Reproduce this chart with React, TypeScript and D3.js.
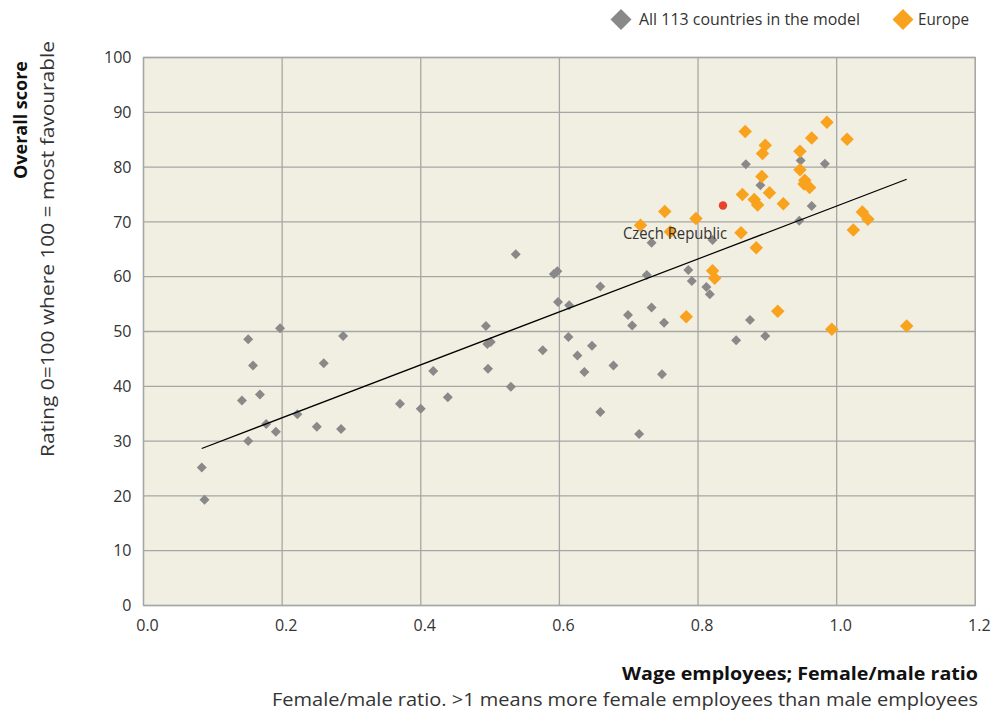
import React from 'react';
import * as d3 from 'd3';

// All 113 countries in the model (grey)
const allX = [0.084, 0.088, 0.142, 0.151, 0.151, 0.158, 0.168, 0.177, 0.191, 0.197, 0.222, 0.250, 0.260, 0.285, 0.288,
  0.370, 0.400, 0.418, 0.439, 0.494, 0.496, 0.501, 0.497, 0.530, 0.537, 0.576, 0.592, 0.597, 0.598, 0.614,
  0.613, 0.626, 0.636, 0.647, 0.659, 0.659, 0.678, 0.699, 0.705, 0.715, 0.726, 0.733, 0.733, 0.751, 0.748,
  0.786, 0.791, 0.812, 0.817, 0.821, 0.855, 0.869, 0.875, 0.890, 0.897, 0.946, 0.948, 0.964, 0.983];
const allY = [25.2, 19.3, 37.4, 48.6, 30.0, 43.8, 38.5, 33.1, 31.7, 50.6, 34.9, 32.6, 44.2, 32.2, 49.2,
  36.8, 35.9, 42.8, 38.0, 51.0, 47.7, 48.1, 43.2, 39.9, 64.1, 46.6, 60.5, 61.0, 55.4, 54.8,
  49.0, 45.6, 42.6, 47.4, 58.2, 35.3, 43.8, 53.0, 51.1, 31.3, 60.3, 54.4, 66.2, 51.6, 42.2,
  61.2, 59.2, 58.1, 56.8, 66.7, 48.4, 80.5, 52.1, 76.7, 49.2, 70.2, 81.2, 72.9, 80.6];

// Europe (orange)
const europeX = [0.868, 0.986, 0.964, 1.015, 0.897, 0.893, 0.947, 0.947, 0.892, 0.954, 0.953, 0.961, 0.864, 0.903,
  0.881, 0.886, 0.923, 0.752, 0.797, 0.717, 0.760, 0.862, 0.884, 1.037, 1.045, 1.024, 0.821, 0.824, 0.783,
  0.915, 0.993, 1.101];
const europeY = [86.5, 88.2, 85.3, 85.1, 84.0, 82.5, 82.9, 79.5, 78.3, 77.6, 76.9, 76.3, 75.0, 75.3,
  74.1, 73.1, 73.3, 71.9, 70.6, 69.4, 68.2, 68.0, 65.3, 71.8, 70.5, 68.5, 61.1, 59.7, 52.7,
  53.7, 50.4, 51.0];

// Highlighted country
const highlightName = 'Czech Republic';
const highlightX = 0.836;
const highlightY = 73.0;

// Linear trend line (fitted over all countries)
const trendSlope = 48.3;
const trendIntercept = 24.6;

const xTicks = [0, 0.2, 0.4, 0.6, 0.8, 1.0, 1.2];
const yTicks = [0, 10, 20, 30, 40, 50, 60, 70, 80, 90, 100];

const legendLabels = ['All 113 countries in the model', 'Europe'];
const yTitle = 'Overall score';
const ySubtitle = 'Rating 0=100 where 100 = most favourable';
const xTitle = 'Wage employees; Female/male ratio';
const xSubtitle = 'Female/male ratio. >1 means more female employees than male employees';

const GREY = '#898989';
const ORANGE = '#F9A21E';
const RED = '#E8432B';
const FONT = "'Open Sans', 'Noto Sans', sans-serif";

export default function App() {
  const W = 993, H = 713;
  const left = 143.5, right = 975.3, top = 57.5, bottom = 605.5;
  const x = d3.scaleLinear().domain([0, 1.2]).range([left, right]);
  const y = d3.scaleLinear().domain([0, 100]).range([bottom, top]);

  const diamondPath = (w: number) => d3.symbol().type(d3.symbolSquare).size((w * w) / 2)() as string;
  const greyD = diamondPath(10);
  const orangeD = diamondPath(13.5);
  const legendD = diamondPath(21);

  const allXs = [...allX, ...europeX];
  const xMin = d3.min(allXs) as number;
  const xMax = d3.max(allXs) as number;
  const trend = d3.line<number>().x(d => x(d)).y(d => y(trendSlope * d + trendIntercept));

  return (
    <svg width={W} height={H} style={{ position: 'absolute', left: 0, top: 0, background: '#fff' }} fontFamily={FONT}>
      <rect x={left} y={top} width={right - left} height={bottom - top} fill="#F1EFE1" />
      {yTicks.map(t => (
        <line key={'gy' + t} x1={left} x2={right} y1={y(t)} y2={y(t)} stroke="#A6A6A6" strokeWidth={1.3} />
      ))}
      {xTicks.map(t => (
        <line key={'gx' + t} x1={x(t)} x2={x(t)} y1={top} y2={bottom} stroke="#A6A6A6" strokeWidth={1.3} />
      ))}
      <rect x={left} y={top} width={right - left} height={bottom - top} fill="none" stroke="#A6A6A6" strokeWidth={1.3} />

      {yTicks.map(t => (
        <text key={'ty' + t} x={131.5} y={y(t)} dy="0.35em" textAnchor="end" fontSize={16} fill="#333">{t}</text>
      ))}
      {xTicks.map(t => (
        <text key={'tx' + t} x={x(t) + 4} y={631} textAnchor="middle" fontSize={16} fill="#333">{t.toFixed(1)}</text>
      ))}

      {allX.map((v, i) => (
        <path key={'a' + i} d={greyD} transform={`translate(${x(v)},${y(allY[i])}) rotate(45)`} fill={GREY} />
      ))}
      {europeX.map((v, i) => (
        <path key={'e' + i} d={orangeD} transform={`translate(${x(v)},${y(europeY[i])}) rotate(45)`} fill={ORANGE} />
      ))}
      <circle cx={x(highlightX)} cy={y(highlightY)} r={4.2} fill={RED} />

      <path d={trend([xMin, xMax]) as string} fill="none" stroke="#000" strokeWidth={1.2} />

      <text x={675} y={234} dy="0.35em" textAnchor="middle" fontSize={15.5} fill="#333" textLength={104} lengthAdjust="spacingAndGlyphs">{highlightName}</text>

      {/* legend */}
      <path d={legendD} transform="translate(621,19.5) rotate(45)" fill={GREY} />
      <text x={639} y={25} fontSize={16} fill="#333" textLength={221} lengthAdjust="spacingAndGlyphs">{legendLabels[0]}</text>
      <path d={legendD} transform="translate(903,19.5) rotate(45)" fill={ORANGE} />
      <text x={918} y={25} fontSize={16} fill="#333" textLength={51} lengthAdjust="spacingAndGlyphs">{legendLabels[1]}</text>

      {/* y titles */}
      <text transform="translate(27,120) rotate(-90)" textAnchor="middle" fontSize={17} fontWeight="bold" fill="#111" textLength={118} lengthAdjust="spacingAndGlyphs">{yTitle}</text>
      <text transform="translate(54,249) rotate(-90)" textAnchor="middle" fontSize={18} fill="#333" textLength={416} lengthAdjust="spacingAndGlyphs">{ySubtitle}</text>

      {/* x titles */}
      <text x={978} y={680} textAnchor="end" fontSize={18} fontWeight="bold" fill="#111" textLength={356} lengthAdjust="spacingAndGlyphs">{xTitle}</text>
      <text x={978} y={706} textAnchor="end" fontSize={18.5} fill="#333" textLength={706} lengthAdjust="spacingAndGlyphs">{xSubtitle}</text>
    </svg>
  );
}
